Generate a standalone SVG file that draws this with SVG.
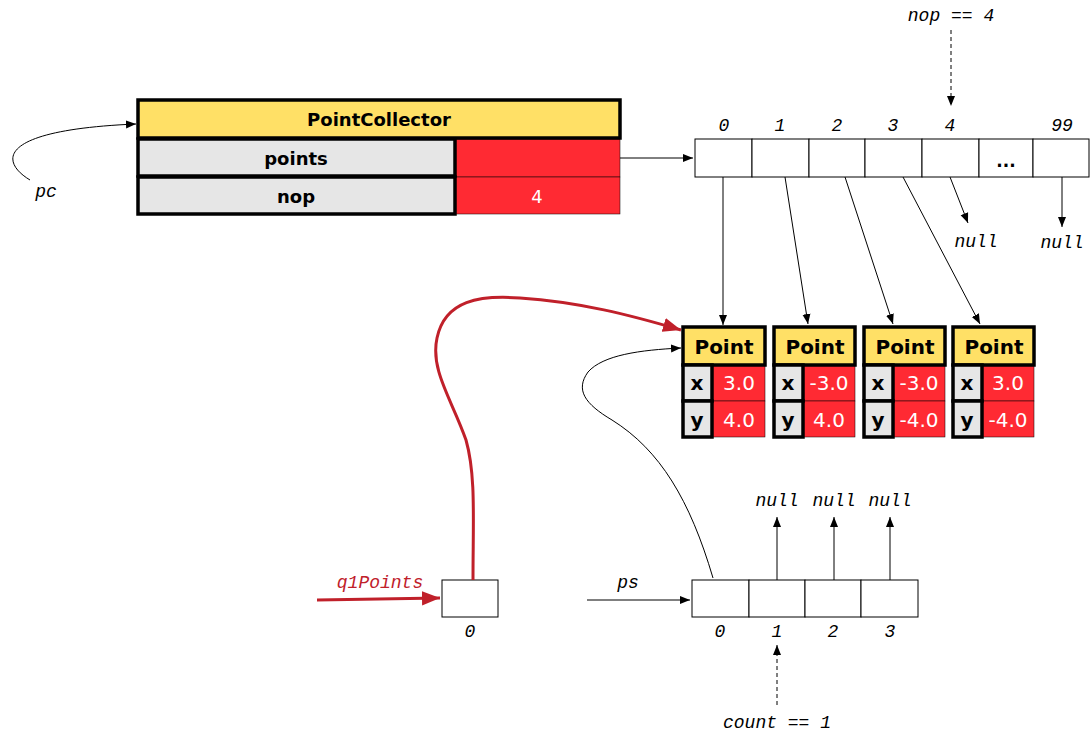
<svg xmlns="http://www.w3.org/2000/svg" width="1091" height="733" viewBox="0 0 1091 733">
<style>
.hdr{fill:#FFE066;stroke:#000;stroke-width:3.5}
.gray{fill:#E6E6E6;stroke:#000;stroke-width:3.5}
.red{fill:#FF2A33;stroke:#000;stroke-width:0.5}
.cell{fill:#fff;stroke:#000;stroke-width:1}
.b{font-family:"DejaVu Sans",sans-serif;font-weight:bold;font-size:18px;text-anchor:middle;fill:#000}
.pb{font-size:20px}
.v{font-family:"DejaVu Sans",sans-serif;font-size:18px;text-anchor:middle;fill:#fff}
.pv{font-size:20px}
.m{font-family:"Liberation Mono",monospace;font-style:italic;font-size:18px;text-anchor:middle;fill:#000}
.ln{fill:none;stroke:#000;stroke-width:1}
.dash{fill:none;stroke:#000;stroke-width:1;stroke-dasharray:4 3}
.rl{fill:none;stroke:#C0202A;stroke-width:3}
</style>
<defs>
<marker id="ah" viewBox="0 0 10 10" refX="10" refY="5" markerWidth="10" markerHeight="10" markerUnits="userSpaceOnUse" orient="auto"><path d="M0,1 L10,5 L0,9 z" fill="#000"/></marker>
<marker id="rah" viewBox="0 0 10 10" refX="10" refY="5" markerWidth="18" markerHeight="18" markerUnits="userSpaceOnUse" orient="auto"><path d="M0,1 L10,5 L0,9 z" fill="#C0202A"/></marker>
</defs>

<g id="pointcollector">
<rect class="red" x="455" y="139" width="165" height="38"/>
<rect class="red" x="455" y="177" width="165" height="37"/>
<rect class="hdr" x="138" y="100" width="482" height="38"/>
<rect class="gray" x="138" y="139" width="317" height="37"/>
<rect class="gray" x="138" y="177" width="317" height="37"/>
<text class="b" x="379" y="126">PointCollector</text>
<text class="b" x="296" y="165">points</text>
<text class="b" x="296" y="203">nop</text>
<text class="v" x="537" y="203">4</text>
</g>

<g id="array100">
<rect class="cell" x="695" y="139" width="57" height="38"/>
<rect class="cell" x="752" y="139" width="57" height="38"/>
<rect class="cell" x="809" y="139" width="56" height="38"/>
<rect class="cell" x="865" y="139" width="57" height="38"/>
<rect class="cell" x="922" y="139" width="57" height="38"/>
<rect class="cell" x="979" y="139" width="54" height="38"/>
<rect class="cell" x="1033" y="139" width="56" height="38"/>
<text class="b" x="1006" y="167" style="font-size:17px">...</text>
<text class="m" x="724" y="131">0</text>
<text class="m" x="780" y="131">1</text>
<text class="m" x="837" y="131">2</text>
<text class="m" x="893" y="131">3</text>
<text class="m" x="950" y="131">4</text>
<text class="m" x="1062" y="131">99</text>
<text class="m" x="976" y="247">null</text>
<text class="m" x="1062" y="248">null</text>
<text class="m" x="951" y="21">nop == 4</text>
</g>

<g id="point0">
<rect class="red" x="712" y="365" width="53" height="36"/>
<rect class="red" x="712" y="401" width="53" height="36"/>
<rect class="hdr" x="683" y="327" width="82" height="38"/>
<rect class="gray" x="683" y="365" width="29" height="36"/>
<rect class="gray" x="683" y="401" width="29" height="36"/>
<text class="b pb" x="724" y="354">Point</text>
<text class="b pb" x="697" y="390">x</text>
<text class="b pb" x="697" y="427">y</text>
<text class="v pv" x="739" y="390">3.0</text>
<text class="v pv" x="739" y="427">4.0</text>
</g>
<g id="point1">
<rect class="red" x="803" y="365" width="52" height="36"/>
<rect class="red" x="803" y="401" width="52" height="36"/>
<rect class="hdr" x="774" y="327" width="81" height="38"/>
<rect class="gray" x="774" y="365" width="29" height="36"/>
<rect class="gray" x="774" y="401" width="29" height="36"/>
<text class="b pb" x="815" y="354">Point</text>
<text class="b pb" x="788" y="390">x</text>
<text class="b pb" x="788" y="427">y</text>
<text class="v pv" x="829" y="390">-3.0</text>
<text class="v pv" x="829" y="427">4.0</text>
</g>
<g id="point2">
<rect class="red" x="893" y="365" width="52" height="36"/>
<rect class="red" x="893" y="401" width="52" height="36"/>
<rect class="hdr" x="864" y="327" width="81" height="38"/>
<rect class="gray" x="864" y="365" width="29" height="36"/>
<rect class="gray" x="864" y="401" width="29" height="36"/>
<text class="b pb" x="905" y="354">Point</text>
<text class="b pb" x="878" y="390">x</text>
<text class="b pb" x="878" y="427">y</text>
<text class="v pv" x="919" y="390">-3.0</text>
<text class="v pv" x="919" y="427">-4.0</text>
</g>
<g id="point3">
<rect class="red" x="982" y="365" width="52" height="36"/>
<rect class="red" x="982" y="401" width="52" height="36"/>
<rect class="hdr" x="953" y="327" width="81" height="38"/>
<rect class="gray" x="953" y="365" width="29" height="36"/>
<rect class="gray" x="953" y="401" width="29" height="36"/>
<text class="b pb" x="994" y="354">Point</text>
<text class="b pb" x="967" y="390">x</text>
<text class="b pb" x="967" y="427">y</text>
<text class="v pv" x="1008" y="390">3.0</text>
<text class="v pv" x="1008" y="427">-4.0</text>
</g>

<g id="q1points">
<rect class="cell" x="442" y="580" width="56" height="37"/>
<text class="m" x="470" y="637">0</text>
<text class="m" x="380" y="588" style="fill:#C0202A">q1Points</text>
</g>

<g id="ps">
<rect class="cell" x="692" y="580" width="57" height="37"/>
<rect class="cell" x="749" y="580" width="56" height="37"/>
<rect class="cell" x="805" y="580" width="56" height="37"/>
<rect class="cell" x="861" y="580" width="57" height="37"/>
<text class="m" x="720" y="637">0</text>
<text class="m" x="777" y="637">1</text>
<text class="m" x="833" y="637">2</text>
<text class="m" x="890" y="637">3</text>
<text class="m" x="777" y="506">null</text>
<text class="m" x="834" y="506">null</text>
<text class="m" x="890" y="506">null</text>
<text class="m" x="628" y="588">ps</text>
<text class="m" x="777" y="728">count == 1</text>
</g>

<g id="labels">
<text class="m" x="46" y="197">pc</text>
</g>

<g id="connectors">
<path class="ln" d="M30,180 C0,162 -5,130 136,124" marker-end="url(#ah)"/>
<path class="ln" d="M620,158 L693,158" marker-end="url(#ah)"/>
<path class="dash" d="M951,30 L951,106" marker-end="url(#ah)"/>
<path class="ln" d="M723,177 L723,325" marker-end="url(#ah)"/>
<path class="ln" d="M785,177 L808,324" marker-end="url(#ah)"/>
<path class="ln" d="M845,177 L893,324" marker-end="url(#ah)"/>
<path class="ln" d="M903,177 L980,324" marker-end="url(#ah)"/>
<path class="ln" d="M950,177 L968,223" marker-end="url(#ah)"/>
<path class="ln" d="M1062,177 L1062,227" marker-end="url(#ah)"/>
<path class="rl" d="M317,600 L440,598" marker-end="url(#rah)"/>
<path class="rl" d="M473,580 C473,520 476,475 466,440 C452,400 430,370 437,338 C445,300 480,295 520,298 C580,302 630,315 681,330" marker-end="url(#rah)"/>
<path class="ln" d="M713,578 C690,500 660,450 612,420 C585,404 575,390 588,372 C603,355 640,350 681,348" marker-end="url(#ah)"/>
<path class="ln" d="M587,600 L690,600" marker-end="url(#ah)"/>
<path class="ln" d="M777,580 L777,517" marker-end="url(#ah)"/>
<path class="ln" d="M834,580 L834,517" marker-end="url(#ah)"/>
<path class="ln" d="M890,580 L890,517" marker-end="url(#ah)"/>
<path class="dash" d="M777,705 L777,645" marker-end="url(#ah)"/>
</g>
</svg>
